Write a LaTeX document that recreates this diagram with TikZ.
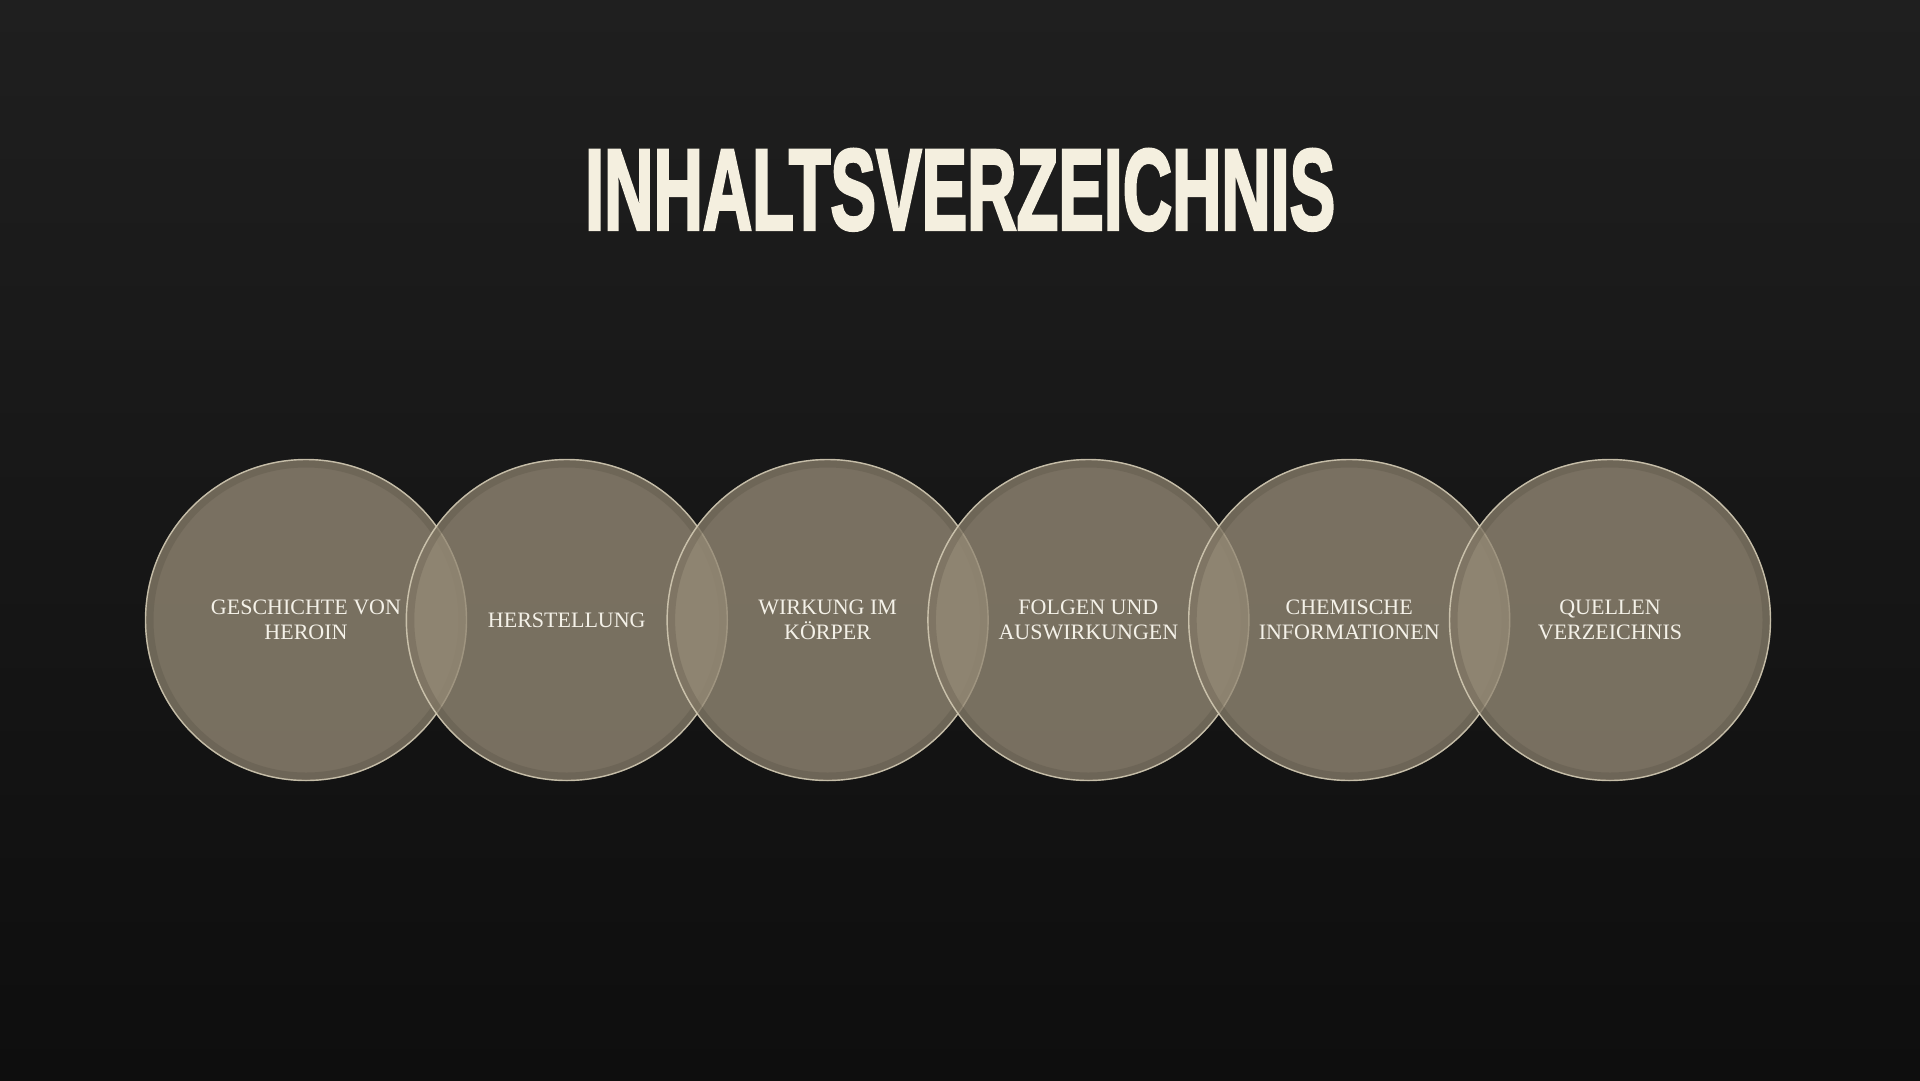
\documentclass[tikz,border=0pt]{standalone}
\usepackage{fontspec}
\setmainfont{Liberation Serif}
\newfontfamily\titlefont{Liberation Sans}[FakeBold=3]
\usetikzlibrary{positioning}
\definecolor{bgtop}{HTML}{1F1F1F}
\definecolor{bgbot}{HTML}{0E0E0E}
\definecolor{discfill}{HTML}{958A76}
\definecolor{discrim}{HTML}{D9D1BA}
\definecolor{discshade}{HTML}{4A4438}
\definecolor{titlecol}{HTML}{F4EFDF}
\definecolor{labelcol}{HTML}{F4F1E8}
\tikzset{
  disc/.style={circle, minimum size=322pt, inner sep=0pt, fill=discfill, fill opacity=0.78, draw=none},
  lbl/.style={align=center, text=labelcol, font=\fontsize{22}{24.5}\selectfont, inner sep=0pt},
}
\begin{document}
\begin{tikzpicture}[x=1pt,y=-1pt]
\shade[top color=bgtop, bottom color=bgbot] (0,0) rectangle (1920,1080);
\useasboundingbox (0,0) rectangle (1920,1080);
\node[text=titlecol, inner sep=0pt, anchor=north west] (title) at (585,149)
  {\resizebox{750pt}{80pt}{\titlefont\bfseries INHALTSVERZEICHNIS}};
\foreach \i/\nm in {0/c1,1/c2,2/c3,3/c4,4/c5,5/c6}{
  \node[disc] (\nm) at ({306+260.8*\i},620) {};
  \draw[discshade, line width=7pt, opacity=0.22] (\nm.center) circle (156pt);
  \draw[discrim, line width=1.4pt, opacity=0.8] (\nm.center) circle (160.5pt);
}
\node[lbl] (t1) at (c1) {GESCHICHTE VON\\HEROIN};
\node[lbl] (t2) at (c2) {HERSTELLUNG};
\node[lbl] (t3) at (c3) {WIRKUNG IM\\KÖRPER};
\node[lbl] (t4) at (c4) {FOLGEN UND\\AUSWIRKUNGEN};
\node[lbl] (t5) at (c5) {CHEMISCHE\\INFORMATIONEN};
\node[lbl] (t6) at (c6) {QUELLEN\\VERZEICHNIS};
\end{tikzpicture}
\end{document}
